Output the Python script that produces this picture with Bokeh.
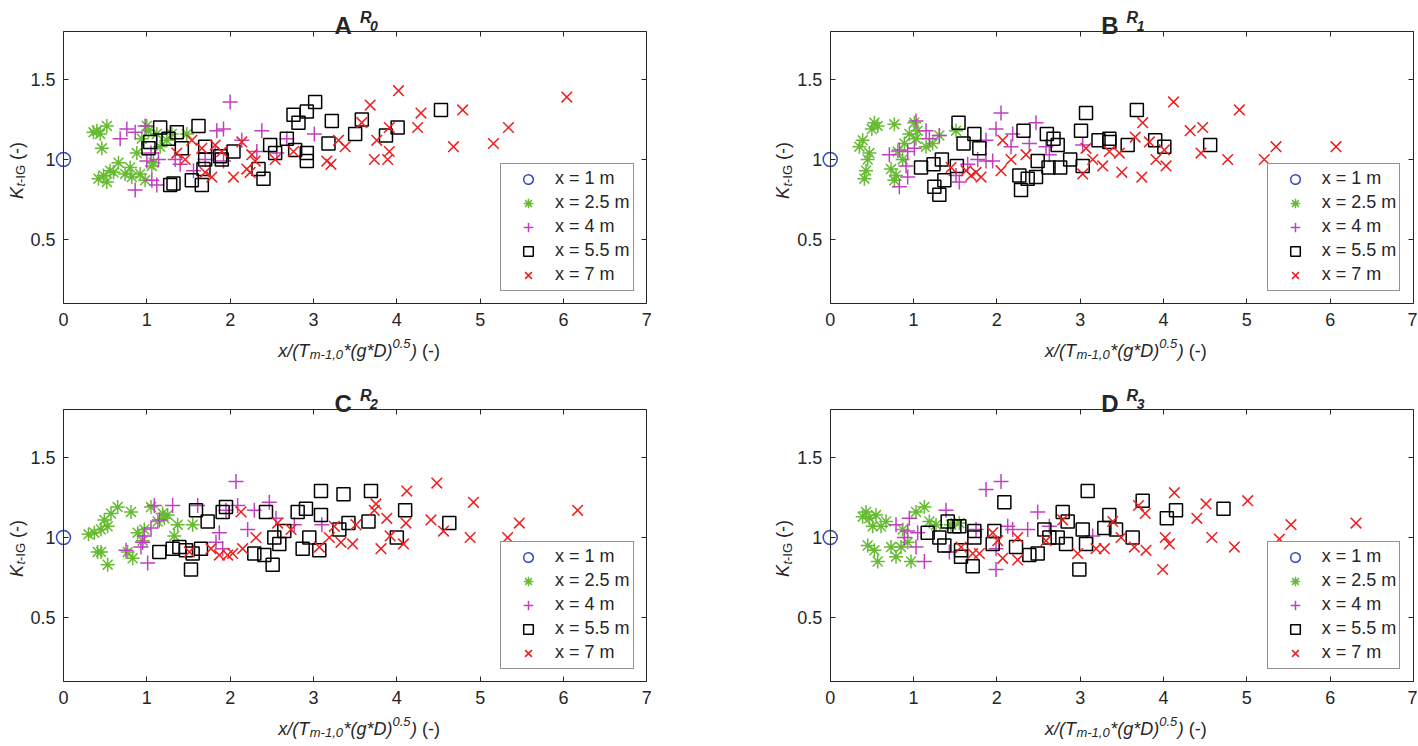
import math
from bokeh.plotting import figure
from bokeh.models import (Range1d, LinearAxis, FixedTicker, CustomJSTickFormatter,
                          Label, Legend, LegendItem, ColumnDataSource)
from bokeh.layouts import column, row
from bokeh.embed import file_html
from bokeh.resources import INLINE

# ---------------- data ----------------
x_ticks = [0, 1, 2, 3, 4, 5, 6, 7]
y_ticks = [0.5, 1.0, 1.5]
x_lim = (0.0, 7.0)
y_lim = (0.1, 1.8)
series_labels = ["x = 1 m", "x = 2.5 m", "x = 4 m", "x = 5.5 m", "x = 7 m"]
panel_letters = ["A", "B", "C", "D"]
panel_subs = ["0", "1", "2", "3"]

# x = 1 m (reference point) in every panel
ref_pts = [(0.0, 1.0)]

A_25 = [(0.36,1.17),(0.40,1.18),(0.44,1.16),(0.52,1.21),(0.46,1.07),(0.42,0.88),(0.48,0.90),
        (0.56,0.93),(0.52,0.86),(0.66,0.98),(0.60,0.92),(0.80,0.95),(0.82,0.89),(0.92,0.91),
        (1.06,0.96),(0.94,1.13),(1.02,1.18),(1.12,1.16),(1.24,1.12),(1.48,1.16),(0.88,1.04),
        (1.00,1.21),(1.16,1.08),(0.74,0.91),(0.98,0.87),(1.30,1.16),(1.08,0.98)]
A_40 = [(2.00,1.36),(0.76,1.19),(0.68,1.13),(0.98,1.21),(0.86,1.17),(1.84,1.18),(1.92,1.19),
        (2.14,1.12),(2.38,1.18),(2.68,1.13),(3.01,1.16),(0.86,0.81),(1.06,0.87),(1.12,0.84),
        (1.14,1.00),(1.34,1.00),(1.56,0.93),(1.70,1.00),(1.92,0.99),(2.32,1.05),(1.00,0.99),
        (1.05,1.04),(1.40,0.97),(1.82,1.04),(2.56,1.04)]
A_55 = [(1.16,1.20),(1.04,1.11),(1.02,1.07),(1.26,1.13),(1.36,1.17),(1.62,1.21),(1.42,1.07),
        (1.70,1.08),(1.70,1.00),(1.88,1.02),(2.04,1.05),(1.28,0.84),(1.32,0.85),(1.54,0.87),
        (1.66,0.84),(1.68,0.94),(1.90,1.00),(2.34,0.94),(2.40,0.88),(2.48,1.09),(2.54,1.04),
        (2.68,1.13),(2.76,1.28),(2.82,1.23),(2.92,1.30),(3.02,1.36),(2.92,1.04),(2.92,0.99),
        (2.78,1.06),(3.22,1.24),(3.18,1.10),(3.50,1.16),(3.58,1.25),(3.87,1.15),(4.01,1.20),
        (4.53,1.31)]
A_70 = [(1.54,1.12),(1.46,1.00),(1.36,1.04),(1.66,1.07),(1.82,1.09),(1.90,1.05),(1.78,0.89),
        (1.70,0.92),(2.04,0.89),(2.14,1.11),(2.20,0.94),(2.24,0.92),(2.26,1.03),(2.30,0.99),
        (2.54,1.00),(2.76,1.05),(3.16,0.99),(3.21,0.97),(3.30,1.12),(3.38,1.08),(3.58,1.23),
        (3.68,1.34),(3.76,1.12),(3.73,1.00),(3.89,1.00),(3.91,1.05),(3.91,1.20),(4.02,1.43),
        (4.25,1.20),(4.29,1.29),(4.68,1.08),(4.79,1.31),(5.16,1.10),(5.34,1.20),(6.04,1.39)]

B_25 = [(0.53,1.23),(0.50,1.19),(0.57,1.21),(0.77,1.22),(0.39,1.12),(0.35,1.08),(0.47,1.04),
        (0.43,0.93),(0.41,0.88),(1.01,1.23),(0.95,1.16),(0.89,1.10),(0.81,1.05),(0.73,0.94),
        (0.77,0.87),(0.87,1.00),(1.03,1.13),(1.15,1.08),(1.31,1.15),(1.51,1.18),(1.05,1.18),
        (1.23,1.10),(0.45,1.00),(0.79,0.90)]
B_40 = [(1.03,1.24),(1.15,1.18),(0.71,1.03),(0.83,1.06),(0.93,1.05),(0.91,0.96),(0.93,0.89),
        (0.83,0.83),(2.05,1.29),(1.99,1.19),(2.47,1.23),(1.87,1.12),(2.19,1.16),(2.17,1.08),
        (2.39,1.10),(1.77,1.00),(1.87,0.99),(1.95,0.99),(1.65,0.97),(1.51,0.90),(1.55,0.86),
        (2.59,1.08),(2.63,1.03),(1.19,1.13),(1.01,1.07),(1.31,1.15),(3.03,1.09)]
B_55 = [(1.54,1.23),(1.73,1.16),(1.60,1.10),(1.79,1.07),(2.32,1.18),(3.07,1.29),(2.60,1.16),
        (2.68,1.13),(3.01,1.18),(2.73,1.09),(1.09,0.95),(1.24,0.97),(1.34,1.00),(1.52,0.96),
        (1.37,0.87),(1.25,0.83),(1.31,0.78),(2.27,0.90),(2.37,0.88),(2.47,0.89),(2.29,0.81),
        (2.49,0.99),(2.62,0.95),(2.76,0.95),(2.88,1.00),(3.03,0.96),(3.22,1.12),(3.35,1.13),
        (3.35,1.11),(3.57,1.09),(3.68,1.31),(3.90,1.12),(4.01,1.08),(4.56,1.09)]
B_70 = [(1.45,0.95),(1.63,0.93),(1.69,0.90),(1.75,0.92),(1.81,0.89),(2.05,0.93),(2.07,1.12),
        (2.17,1.00),(2.35,1.03),(3.03,0.91),(3.07,1.07),(3.15,1.00),(3.27,0.96),(3.35,1.05),
        (3.47,1.04),(3.50,0.92),(3.66,1.14),(3.74,0.89),(3.75,1.23),(3.83,1.11),(3.91,1.00),
        (4.01,1.06),(4.03,0.96),(4.12,1.36),(4.32,1.18),(4.45,1.04),(4.47,1.20),(4.77,1.00),
        (4.91,1.31),(5.21,1.00),(5.35,1.08),(6.07,1.08)]

C_25 = [(0.37,1.03),(0.45,1.05),(0.49,1.11),(0.57,1.15),(0.65,1.19),(0.53,1.07),(0.41,0.91),
        (0.45,0.91),(0.53,0.83),(0.81,1.16),(0.77,0.91),(0.83,0.87),(0.89,1.03),(0.97,1.05),
        (1.05,1.19),(1.19,1.15),(1.25,1.14),(1.13,1.10),(1.37,1.08),(1.33,1.01),(1.55,1.08),
        (1.21,1.12),(0.95,0.98),(0.30,1.02)]
C_40 = [(2.07,1.35),(1.09,1.20),(1.31,1.20),(1.15,1.11),(1.61,1.20),(1.95,1.17),(2.09,1.20),
        (2.29,1.17),(2.47,1.22),(2.21,1.05),(1.87,1.03),(1.83,0.97),(1.91,0.93),(0.97,1.01),
        (0.95,0.97),(0.93,0.94),(0.75,0.92),(1.01,0.84),(3.10,1.08),(2.77,1.08),(1.05,1.06),
        (2.55,1.12)]
C_55 = [(3.09,1.29),(1.95,1.19),(1.91,1.16),(1.59,1.17),(1.73,1.10),(2.43,1.16),(2.81,1.16),
        (2.91,1.18),(3.09,1.14),(2.65,1.04),(2.53,1.00),(2.59,0.96),(2.95,1.00),(2.87,0.93),
        (3.07,0.92),(1.15,0.91),(1.31,0.93),(1.39,0.94),(1.47,0.92),(1.55,0.90),(1.65,0.93),
        (1.53,0.80),(2.29,0.90),(2.41,0.89),(2.51,0.83),(3.36,1.27),(3.69,1.29),(4.10,1.17),
        (4.63,1.09),(3.66,1.10),(3.42,1.09),(3.31,1.05),(4.00,1.00)]
C_70 = [(2.13,1.16),(1.51,0.91),(1.77,0.93),(1.87,0.89),(1.97,0.89),(2.03,0.90),(2.15,0.93),
        (2.31,1.00),(2.57,1.09),(3.07,0.94),(3.19,1.00),(3.25,1.07),(3.33,0.97),(3.47,0.96),
        (3.51,1.08),(3.75,1.21),(3.73,1.17),(3.81,0.93),(3.88,1.12),(3.92,1.01),(4.08,0.96),
        (4.11,1.09),(4.12,1.29),(4.41,1.11),(4.48,1.34),(4.56,1.04),(4.88,1.00),(4.92,1.22),
        (5.33,1.00),(5.47,1.09),(6.17,1.17),(2.73,1.05)]

D_25 = [(0.43,1.16),(0.39,1.13),(0.47,1.12),(0.51,1.07),(0.61,1.07),(0.67,1.10),(0.45,0.95),
        (0.53,0.92),(0.57,0.85),(0.73,0.94),(0.79,0.88),(0.85,0.94),(0.97,0.85),(0.93,0.97),
        (0.87,1.05),(1.03,1.16),(1.13,1.19),(1.19,1.10),(1.27,1.08),(1.55,1.09),(1.45,1.08),
        (0.55,1.14)]
D_40 = [(1.87,1.30),(2.05,1.35),(2.49,1.16),(1.39,1.17),(0.79,1.08),(0.95,1.12),(0.89,1.00),
        (1.03,0.94),(1.13,0.85),(0.93,1.04),(1.43,0.91),(1.99,0.80),(2.13,1.07),(2.19,1.05),
        (2.37,1.05),(2.63,1.07),(3.15,1.01),(1.75,1.05),(1.99,0.93),(1.05,1.03)]
D_55 = [(3.09,1.29),(2.09,1.22),(2.79,1.16),(2.85,1.10),(1.41,1.10),(1.49,1.07),(1.55,1.07),
        (1.17,1.03),(1.31,1.00),(1.37,0.95),(1.57,0.92),(1.57,0.88),(1.73,1.04),(1.73,1.00),
        (1.71,0.82),(1.97,1.04),(1.95,0.96),(2.23,0.94),(2.39,0.89),(2.49,0.90),(2.57,1.05),
        (2.63,1.00),(2.73,1.00),(2.83,0.96),(3.03,1.05),(3.07,0.96),(2.99,0.80),(3.29,1.06),
        (3.35,1.14),(3.75,1.23),(4.15,1.17),(4.04,1.12),(4.72,1.18),(3.43,1.05),(3.63,1.00)]
D_70 = [(1.57,0.94),(1.71,0.90),(1.79,0.90),(1.95,1.03),(2.01,0.98),(2.07,0.87),(2.25,1.00),
        (2.25,0.86),(2.59,0.98),(2.79,1.11),(2.97,0.90),(3.19,0.93),(3.29,0.93),(3.39,1.10),
        (3.49,1.00),(3.65,0.94),(3.70,1.20),(3.78,1.15),(3.79,0.92),(3.99,0.80),(4.02,1.00),
        (4.07,0.96),(4.13,1.28),(4.40,1.12),(4.51,1.21),(4.58,1.00),(4.85,0.94),(5.01,1.23),
        (5.39,0.99),(5.53,1.08),(6.31,1.09)]

panels = [
    [ref_pts, A_25, A_40, A_55, A_70],
    [ref_pts, B_25, B_40, B_55, B_70],
    [ref_pts, C_25, C_40, C_55, C_70],
    [ref_pts, D_25, D_40, D_55, D_70],
]

# ---------------- styling / layout ----------------
FONT = "Liberation Sans"
AX = "#262626"
TXT = "#262626"
FS = 18                      # main text size (px)
MARKERS = ["circle", "asterisk", "cross", "square", "x"]
COLORS = ["#3446c0", "#66bb33", "#c040c0", "#000000", "#f01e1e"]
SIZES = [14, 14, 15, 13, 15]

COL_W = [717, 700]          # canvas widths
ROW_H = [386, 358]          # canvas heights
BOX_LEFT = [63.0, 112.7]    # px of the axes box inside each canvas
BOX_TOP = [31.0, 23.0]
BOX_W, BOX_H = 583.3, 272.0

ARIAL = {' ': 278, '(': 333, ')': 333, '*': 389, ',': 278, '-': 333, '.': 278, '/': 278,
         '0': 556, '1': 556, '2': 556, '3': 556, '5': 556, 'A': 667, 'B': 667, 'C': 722,
         'D': 722, 'G': 778, 'I': 278, 'K': 667, 'R': 722, 'T': 611, 'g': 556, 'm': 833,
         't': 278, 'x': 500}
BOLD = {'A': 722, 'B': 722, 'C': 722, 'D': 722, 'R': 722}


def text_width(s, size, style):
    tab = dict(ARIAL)
    if "bold" in style:
        tab.update(BOLD)
    return sum(tab.get(c, 556) for c in s) * size / 1000.0


def rich(p, pieces, cx, cy, angle=0.0):
    total = sum(text_width(t, s, st) + gap for (t, s, st, dy, gap) in pieces)
    pos = -total / 2.0
    for t, s, st, dy, gap in pieces:
        if angle == 0:
            lx, ly = cx + pos, cy + dy
        else:
            lx, ly = cx - dy, cy + pos
        p.add_layout(Label(x=lx, y=ly, x_units="screen", y_units="screen", text=t,
                           text_font=FONT, text_font_size=f"{s}px", text_font_style=st,
                           text_color=TXT, text_align="left", text_baseline="alphabetic",
                           angle=angle))
        pos += text_width(t, s, st) + gap


def style_axis(ax, ticks, labels=True):
    ax.ticker = FixedTicker(ticks=ticks)
    ax.axis_line_color = AX
    ax.axis_line_width = 1
    ax.major_tick_in = 5
    ax.major_tick_out = 0
    ax.major_tick_line_color = AX
    ax.minor_tick_line_color = None
    ax.major_label_text_font = FONT
    ax.major_label_text_font_size = f"{FS}px"
    ax.major_label_text_color = TXT
    if not labels:
        ax.formatter = CustomJSTickFormatter(code="return '';")
        ax.major_label_standoff = 0


def make_panel(i):
    ci, ri = i % 2, i // 2
    W, H = COL_W[ci], ROW_H[ri]
    bl, bt = BOX_LEFT[ci], BOX_TOP[ri]
    ppx = BOX_W / (x_lim[1] - x_lim[0])
    ppy = BOX_H / (y_lim[1] - y_lim[0])
    xr = Range1d(x_lim[0] - bl / ppx, x_lim[0] + (W - bl) / ppx)
    yr = Range1d(y_lim[1] - (H - bt) / ppy, y_lim[1] + bt / ppy)
    p = figure(width=W, height=H, x_range=xr, y_range=yr, output_backend="svg",
               toolbar_location=None, title=None, x_axis_location=None, y_axis_location=None,
               min_border=0, min_border_left=0, min_border_right=0,
               min_border_top=0, min_border_bottom=0)
    p.xgrid.visible = False
    p.ygrid.visible = False
    p.outline_line_color = None
    p.background_fill_color = "white"
    p.border_fill_color = "white"

    bottom = LinearAxis(fixed_location=y_lim[0], bounds=x_lim)
    style_axis(bottom, x_ticks)
    bottom.major_label_standoff = 9
    left = LinearAxis(fixed_location=x_lim[0], bounds=y_lim)
    style_axis(left, y_ticks)
    left.formatter = CustomJSTickFormatter(code="return tick.toFixed(1).replace(/\\.0$/, '');")
    left.major_label_standoff = 8
    top = LinearAxis(fixed_location=y_lim[1], bounds=x_lim)
    style_axis(top, x_ticks, labels=False)
    right = LinearAxis(fixed_location=x_lim[1], bounds=y_lim)
    style_axis(right, y_ticks, labels=False)
    p.add_layout(bottom, "below")
    p.add_layout(left, "left")
    p.add_layout(top, "above")
    p.add_layout(right, "right")

    items = []
    for k, pts in enumerate(panels[i]):
        src = ColumnDataSource(dict(x=[a for a, b in pts], y=[b for a, b in pts]))
        r = p.scatter("x", "y", source=src, marker=MARKERS[k], size=SIZES[k],
                      line_color=COLORS[k], fill_color=None, line_width=1.5)
        items.append(LegendItem(label=series_labels[k], renderers=[r]))

    box_bottom = H - bt - BOX_H  # screen y of the axes-box bottom (from canvas bottom)
    leg = Legend(items=items, location=(bl + 437, box_bottom + 12.3), padding=3, spacing=0,
                 glyph_height=24, glyph_width=48, label_standoff=3, label_height=20,
                 label_text_font=FONT, label_text_font_size=f"{FS}px", label_text_color=TXT,
                 border_line_color=AX, border_line_width=1, background_fill_color="white",
                 background_fill_alpha=1.0, margin=0)
    p.add_layout(leg)

    cx = bl + BOX_W / 2
    # title  "A R0"
    rich(p, [(panel_letters[i], 24, "bold", 0, 8), ("R", 16, "bold italic", 8, -1.5),
             (panel_subs[i], 14, "bold italic", 0, 0)], cx + 1, H - bt + 6)
    # x label
    rich(p, [("x/(", FS, "italic", 0, 0), ("T", FS, "italic", 0, 0.5),
             ("m-1,0", 13, "italic", -4, 0.5), ("*(g*D)", FS, "italic", 0, 0),
             ("0.5", 13, "italic", 7, 0.5), (")", FS, "italic", 0, 5),
             ("(-)", FS, "normal", 0, 0)], cx + 4, box_bottom - 47)
    # y label
    rich(p, [("K", FS, "italic", 0, 0.5), ("t", 13, "italic", -4, 0),
             ("-IG", 13, "normal", -4, 5), ("(-)", FS, "normal", 0, 0)],
         bl - 47, box_bottom + 133, angle=math.pi / 2)
    return p


figs = [make_panel(i) for i in range(4)]
layout = column(row(figs[0], figs[1]), row(figs[2], figs[3]))
open("out.html", "w").write(file_html(layout, INLINE))
